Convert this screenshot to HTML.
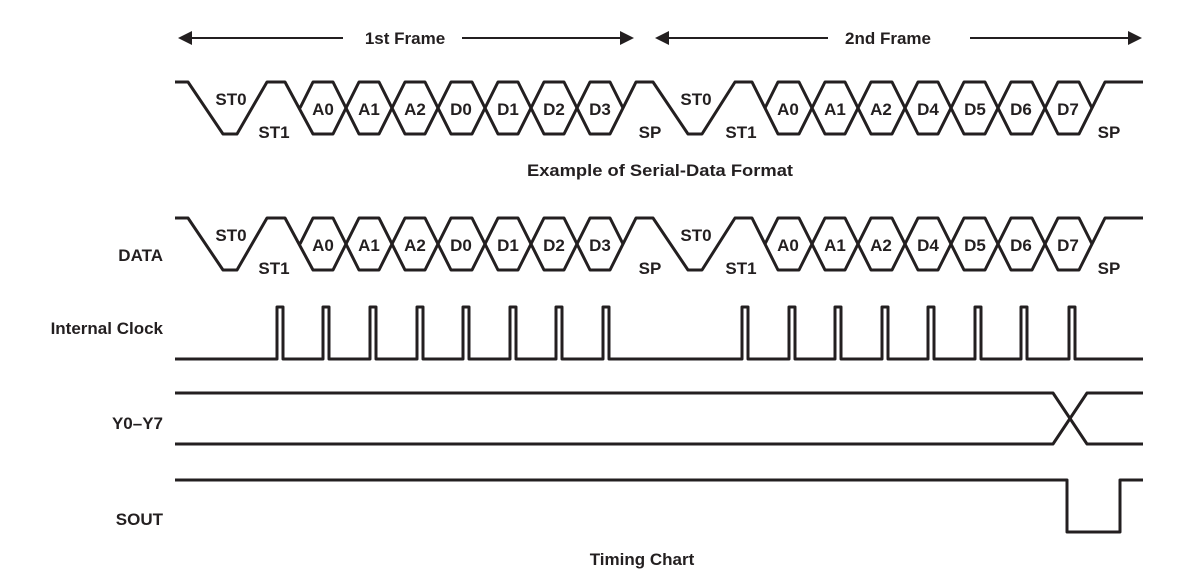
<!DOCTYPE html>
<html><head><meta charset="utf-8"><style>
html,body{margin:0;padding:0;background:#fff;}
svg{display:block;}
text{font-family:"Liberation Sans",Arial,sans-serif;font-weight:bold;font-size:17px;fill:#231f20;}
</style></head><body>
<svg width="1187" height="586" viewBox="0 0 1187 586" xmlns="http://www.w3.org/2000/svg">
<defs>
<g id="wave" fill="none" stroke="#231f20" stroke-width="3" stroke-linejoin="round" stroke-linecap="butt">
<path d="M175,82H188L223,134H237L267,82H285L313,134H333L359,82H379L405,134H425L451,82H472L498,134H518L544,82H564L590,134H610L636,82H653L688,134H702L735,82H752L778,134H799L825,82H845L871,134H892L918,82H938L964,134H985L1011,82H1032L1058,134H1079L1105,82H1143"/>
<path d="M300,108L313,82H333L359,134H379L405,82H425L451,134H472L498,82H518L544,134H564L590,82H610L623,108"/>
<path d="M765,108L778,82H799L825,134H845L871,82H892L918,134H938L964,82H985L1011,134H1032L1058,82H1079L1092,108"/>
</g>
</defs>

<g stroke="#231f20" stroke-width="2">
<line x1="188" y1="38" x2="343" y2="38"/>
<line x1="462" y1="38" x2="622" y2="38"/>
<line x1="668" y1="38" x2="828" y2="38"/>
<line x1="970" y1="38" x2="1130" y2="38"/>
</g>
<g fill="#231f20">
<polygon points="178,38 192,31 192,45"/>
<polygon points="634,38 620,31 620,45"/>
<polygon points="655,38 669,31 669,45"/>
<polygon points="1142,38 1128,31 1128,45"/>
</g>
<text x="405" y="44" text-anchor="middle">1st Frame</text>
<text x="888" y="44" text-anchor="middle">2nd Frame</text>

<use href="#wave"/>
<use href="#wave" transform="translate(0,136)"/>

<g>
<text x="231" y="105" text-anchor="middle">ST0</text>
<text x="274" y="138" text-anchor="middle">ST1</text>
<text x="323" y="115" text-anchor="middle">A0</text>
<text x="369" y="115" text-anchor="middle">A1</text>
<text x="415" y="115" text-anchor="middle">A2</text>
<text x="461" y="115" text-anchor="middle">D0</text>
<text x="508" y="115" text-anchor="middle">D1</text>
<text x="554" y="115" text-anchor="middle">D2</text>
<text x="600" y="115" text-anchor="middle">D3</text>
<text x="650" y="138" text-anchor="middle">SP</text>
<text x="696" y="105" text-anchor="middle">ST0</text>
<text x="741" y="138" text-anchor="middle">ST1</text>
<text x="788" y="115" text-anchor="middle">A0</text>
<text x="835" y="115" text-anchor="middle">A1</text>
<text x="881" y="115" text-anchor="middle">A2</text>
<text x="928" y="115" text-anchor="middle">D4</text>
<text x="975" y="115" text-anchor="middle">D5</text>
<text x="1021" y="115" text-anchor="middle">D6</text>
<text x="1068" y="115" text-anchor="middle">D7</text>
<text x="1109" y="138" text-anchor="middle">SP</text>
</g>
<g transform="translate(0,136)">
<text x="231" y="105" text-anchor="middle">ST0</text>
<text x="274" y="138" text-anchor="middle">ST1</text>
<text x="323" y="115" text-anchor="middle">A0</text>
<text x="369" y="115" text-anchor="middle">A1</text>
<text x="415" y="115" text-anchor="middle">A2</text>
<text x="461" y="115" text-anchor="middle">D0</text>
<text x="508" y="115" text-anchor="middle">D1</text>
<text x="554" y="115" text-anchor="middle">D2</text>
<text x="600" y="115" text-anchor="middle">D3</text>
<text x="650" y="138" text-anchor="middle">SP</text>
<text x="696" y="105" text-anchor="middle">ST0</text>
<text x="741" y="138" text-anchor="middle">ST1</text>
<text x="788" y="115" text-anchor="middle">A0</text>
<text x="835" y="115" text-anchor="middle">A1</text>
<text x="881" y="115" text-anchor="middle">A2</text>
<text x="928" y="115" text-anchor="middle">D4</text>
<text x="975" y="115" text-anchor="middle">D5</text>
<text x="1021" y="115" text-anchor="middle">D6</text>
<text x="1068" y="115" text-anchor="middle">D7</text>
<text x="1109" y="138" text-anchor="middle">SP</text>
</g>

<text x="660" y="176" text-anchor="middle" textLength="266" lengthAdjust="spacingAndGlyphs">Example of Serial-Data Format</text>

<text x="163" y="261" text-anchor="end">DATA</text>
<text x="163" y="334" text-anchor="end">Internal Clock</text>
<text x="163" y="429" text-anchor="end">Y0–Y7</text>
<text x="163" y="525" text-anchor="end">SOUT</text>

<g fill="none" stroke="#231f20" stroke-width="3" stroke-linejoin="round">
<path d="M175,359H277V307H283V359H323V307H329V359H370V307H376V359H417V307H423V359H463V307H469V359H510V307H516V359H556V307H562V359H603V307H609V359H742V307H748V359H789V307H795V359H835V307H841V359H882V307H888V359H928V307H934V359H975V307H981V359H1021V307H1027V359H1069V307H1075V359H1143"/>
<path d="M175,393H1053L1087,444H1143"/>
<path d="M175,444H1053L1087,393H1143"/>
<path d="M175,480H1067V532H1120V480H1143"/>
</g>

<text x="642" y="565" text-anchor="middle">Timing Chart</text>
</svg>
</body></html>
